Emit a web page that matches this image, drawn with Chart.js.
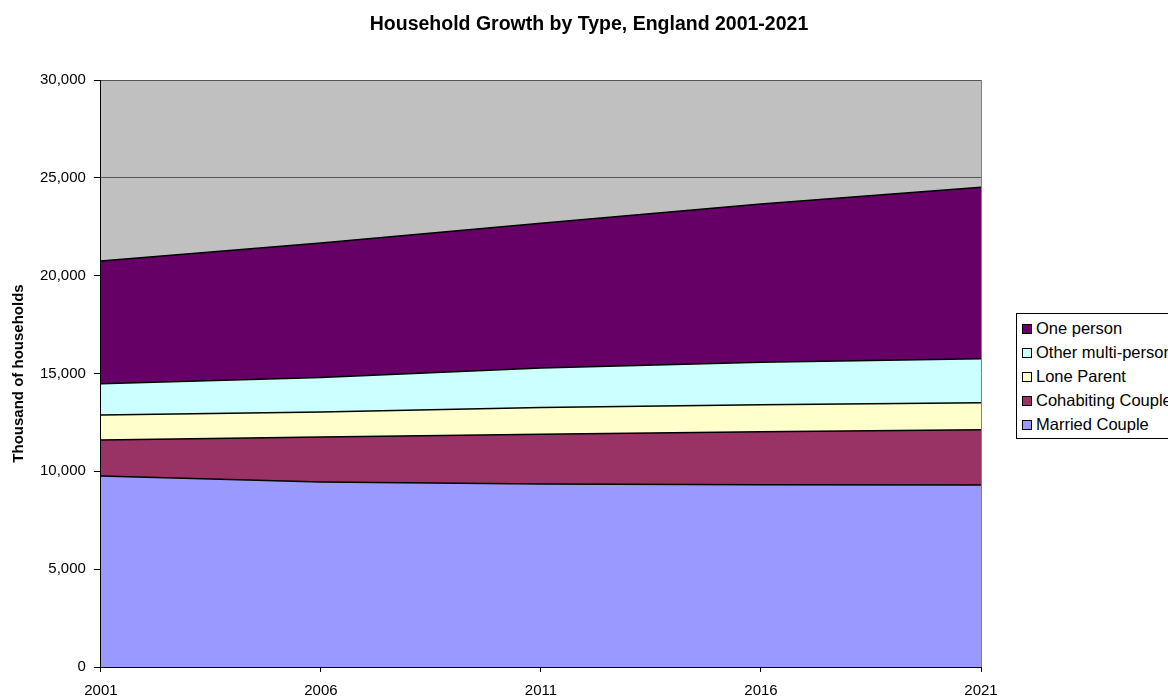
<!DOCTYPE html>
<html>
<head>
<meta charset="utf-8">
<script src="https://cdn.jsdelivr.net/npm/chart.js@4/dist/chart.umd.min.js"></script>
<style>
  html, body { margin: 0; padding: 0; background: #fff; overflow: hidden; }
  #wrap { position: relative; width: 1168px; height: 697px; overflow: hidden; font-family: Arial, "Liberation Sans", sans-serif; }
  #title { position: absolute; left: 0; width: 1178px; top: 13px; line-height: 20px; text-align: center; font-weight: bold; font-size: 19.5px; }
  #legend { position: absolute; left: 1016px; top: 313px; width: 200px; border: 1px solid #000; background: #fff; padding: 2px 0; }
  .li { height: 24px; line-height: 24px; font-size: 16.5px; white-space: nowrap; padding-left: 5px; }
  .sw { display: inline-block; width: 8px; height: 8px; border: 1px solid #000; margin-right: 4px; vertical-align: 0px; }
</style>
</head>
<body>
<div id="wrap">
  <div id="title">Household Growth by Type, England 2001-2021</div>
  <canvas id="chart" width="1168" height="697"></canvas>
  <div id="legend"></div>
</div>
<script>
/* Household growth — stacked area, thousands */
const years = ['2001', '2006', '2011', '2016', '2021'];
const seriesNames = ['Married Couple', 'Cohabiting Couple', 'Lone Parent', 'Other multi-person', 'One person'];
const seriesColors = ['#9999ff', '#993366', '#ffffcc', '#ccffff', '#660066'];
const marriedCouple = [9760, 9450, 9350, 9310, 9300];
const cohabitingCouple = [1840, 2300, 2550, 2710, 2820];
const loneParent = [1280, 1280, 1360, 1380, 1380];
const otherMulti = [1600, 1770, 2020, 2180, 2260];
const onePerson = [6270, 6870, 7400, 8080, 8760];
const seriesValues = [marriedCouple, cohabitingCouple, loneParent, otherMulti, onePerson];

const plotBg = {
    id: 'plotBg',
    beforeDraw(chart) {
        const { ctx, chartArea: a } = chart;
        ctx.save();
        ctx.fillStyle = '#c0c0c0';
        ctx.fillRect(a.left, a.top, a.right - a.left, a.bottom - a.top);
        ctx.restore();
    },
    afterDraw(chart) {
        const { ctx, chartArea: a } = chart;
        ctx.save();
        ctx.strokeStyle = '#808080';
        ctx.lineWidth = 1;
        ctx.beginPath();
        ctx.moveTo(Math.round(a.right) + 0.5, a.top);
        ctx.lineTo(Math.round(a.right) + 0.5, a.bottom);
        ctx.stroke();
        ctx.restore();
    }
};

const font = { family: 'Arial, "Liberation Sans", sans-serif', size: 15 };

new Chart(document.getElementById('chart'), {
    type: 'line',
    data: {
        labels: years,
        datasets: seriesValues.map((v, i) => ({
            label: seriesNames[i], data: v,
            backgroundColor: seriesColors[i], borderColor: '#000', borderWidth: 1.5,
            fill: i === 0 ? 'origin' : '-1', pointRadius: 0, tension: 0
        }))
    },
    options: {
        responsive: false, animation: false,
        layout: { padding: { left: 0, right: 187, top: 80, bottom: -13 } },
        plugins: { legend: { display: false }, tooltip: { enabled: false } },
        scales: {
            x: {
                offset: false,
                grid: { drawOnChartArea: false, tickLength: 5, tickColor: '#000' },
                border: { color: '#000', width: 1 },
                ticks: { color: '#000', font, padding: 10, maxRotation: 0 }
            },
            y: {
                stacked: true, min: 0, max: 30000,
                grid: { color: '#555', tickLength: 7, tickColor: '#000' },
                border: { color: '#000', width: 1 },
                ticks: { stepSize: 5000, color: '#000', font, padding: 8, callback: v => v.toLocaleString('en-US') },
                title: { display: true, text: 'Thousand of households', color: '#000', font: { family: font.family, size: 15, weight: 'bold' }, padding: { top: 10, bottom: 4 } }
            }
        }
    },
    plugins: [plotBg]
});

// legend, top to bottom as in the original
const lg = document.getElementById('legend');
for (let i = seriesNames.length - 1; i >= 0; i--) {
    lg.innerHTML += `<div class="li"><span class="sw" style="background:${seriesColors[i]}"></span>${seriesNames[i]}</div>`;
}
</script>
</body>
</html>
